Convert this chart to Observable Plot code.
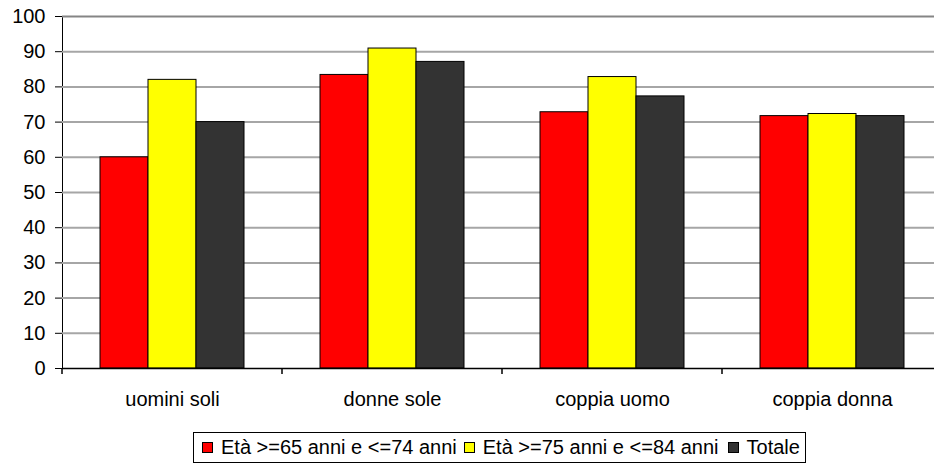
<!DOCTYPE html>
<html>
<head>
<meta charset="utf-8">
<script src="https://cdn.jsdelivr.net/npm/d3@7"></script>
<script src="https://cdn.jsdelivr.net/npm/@observablehq/plot@0.6"></script>
<style>
  html, body { margin: 0; padding: 0; background: #fff; }
  body { font-family: "Liberation Sans", Arial, sans-serif; }
  #wrap { position: relative; width: 934px; height: 466px; overflow: hidden; }
  #legend {
    position: absolute; left: 193px; top: 432px; width: 611px; height: 29px;
    border: 1px solid #000; display: flex; align-items: center;
    font-size: 20px; color: #000; white-space: nowrap; box-sizing: content-box;
  }
  .item { display: flex; align-items: center; }
  .sw { width: 11px; height: 11px; border: 1px solid #000; box-sizing: border-box; margin-right: 8px; }
</style>
</head>
<body>
<div id="wrap"><div id="chart"></div><div id="legend"></div></div>
<script>
const categories = ["uomini soli", "donne sole", "coppia uomo", "coppia donna"];
const series = ["Età >=65 anni e <=74 anni", "Età >=75 anni e <=84 anni", "Totale"];
const eta65_74 = [60, 83.4, 72.8, 71.7];
const eta75_84 = [82, 90.9, 82.8, 72.3];
const totale = [70, 87.1, 77.3, 71.7];
const colors = ["#ff0000", "#ffff00", "#333333"];
const yTicks = [0, 10, 20, 30, 40, 50, 60, 70, 80, 90, 100];

const valuesBySeries = [eta65_74, eta75_84, totale];
const data = [];
categories.forEach((c, i) => {
  series.forEach((s, j) => data.push({cat: c, series: s, value: valuesBySeries[j][i]}));
});

const chart = Plot.plot({
  width: 934,
  height: 420,
  marginLeft: 60,
  marginRight: -9,
  marginTop: 16,
  marginBottom: 52,
  style: {fontFamily: "'Liberation Sans', Arial, sans-serif", fontSize: "20px", color: "#000", background: "#fff"},
  fx: {domain: categories, padding: 0, axis: "bottom", tickSize: 0, tickPadding: 23, label: null},
  x: {domain: series, paddingInner: 0, paddingOuter: 0.75, axis: null},
  y: {domain: [0, 100], ticks: yTicks, tickSize: 7, tickPadding: 10, label: null, line: true},
  color: {domain: series, range: colors},
  marks: [
    Plot.ruleY(yTicks.filter(d => d > 0 && d < 100), {stroke: "#a6a6a6", strokeWidth: 2}),
    Plot.ruleY([100], {stroke: "#858585", strokeWidth: 2}),
    Plot.barY(data, {fx: "cat", x: "series", y: "value", fill: "series", stroke: "#000", strokeWidth: 1}),
    Plot.ruleY([0], {stroke: "#000", strokeWidth: 1.5})
  ]
});
document.getElementById("chart").appendChild(chart);

// category boundary ticks (Excel style), positioned with Plot's own fx and y scales
const fx = chart.scale("fx");
const y = chart.scale("y");
const svg = d3.select(chart);
svg.append("g").attr("stroke", "#000").attr("stroke-width", 1.5)
  .selectAll("line").data(categories).join("line")
  .attr("x1", d => fx.apply(d)).attr("x2", d => fx.apply(d))
  .attr("y1", y.apply(0)).attr("y2", y.apply(0) + 6);

// legend
const legend = d3.select("#legend");
const pads = [8, 7, 9];
series.forEach((s, i) => {
  const it = legend.append("div").attr("class", "item").style("margin-left", pads[i] + "px");
  it.append("div").attr("class", "sw").style("background", colors[i]);
  it.append("span").text(s);
});
</script>
</body>
</html>
